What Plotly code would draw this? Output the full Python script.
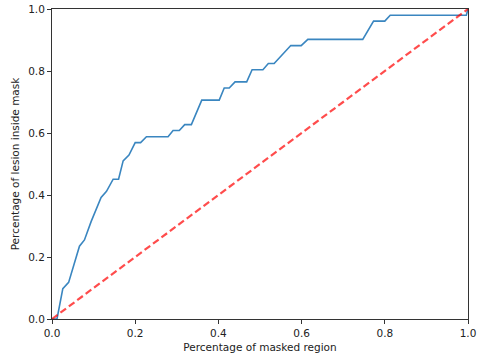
import plotly.graph_objects as go

# ROC-like curve values
x_vals = [0.0, 0.012, 0.026, 0.040, 0.066, 0.078, 0.094, 0.118, 0.131, 0.147, 0.160, 0.171, 0.185,
          0.200, 0.213, 0.227, 0.279, 0.291, 0.306, 0.319, 0.335, 0.360, 0.402, 0.414, 0.426,
          0.440, 0.468, 0.481, 0.507, 0.520, 0.534, 0.574, 0.599, 0.615, 0.747, 0.763, 0.773,
          0.800, 0.813, 0.996, 1.0]
y_vals = [0.0, 0.0, 0.098, 0.118, 0.235, 0.255, 0.314, 0.392, 0.412, 0.451, 0.451, 0.510, 0.529,
          0.569, 0.569, 0.588, 0.588, 0.608, 0.608, 0.627, 0.627, 0.706, 0.706, 0.745, 0.745,
          0.765, 0.765, 0.804, 0.804, 0.824, 0.824, 0.882, 0.882, 0.902, 0.902, 0.941, 0.961,
          0.961, 0.980, 0.980, 1.0]
diag_x = [0.0, 1.0]
diag_y = [0.0, 1.0]
tick_vals = [0.0, 0.2, 0.4, 0.6, 0.8, 1.0]
tick_text = ["0.0", "0.2", "0.4", "0.6", "0.8", "1.0"]

fig = go.Figure()
fig.add_trace(go.Scatter(x=x_vals, y=y_vals, mode="lines",
                         line=dict(color="#3a86c0", width=1.6), showlegend=False))
fig.add_trace(go.Scatter(x=diag_x, y=diag_y, mode="lines",
                         line=dict(color="rgba(255,0,0,0.7)", width=2.2, dash="7px,3.5px"),
                         showlegend=False, cliponaxis=False))

font = dict(family="DejaVu Sans", size=10.5, color="#222222")
axis_common = dict(range=[0, 1], showgrid=False, zeroline=False, showline=True,
                   linecolor="#333333", linewidth=1, mirror=True, ticks="outside",
                   ticklen=4, tickcolor="#333333", tickwidth=1, automargin=False,
                   tickvals=tick_vals, ticktext=tick_text, tickfont=font)

fig.update_layout(
    width=479, height=358,
    margin=dict(l=52, r=11, t=9, b=39),
    paper_bgcolor="white", plot_bgcolor="white",
    xaxis=dict(**axis_common, title=dict(text="Percentage of masked region", font=font, standoff=6)),
    yaxis=dict(**axis_common, title=dict(text="Percentage of lesion inside mask", font=font, standoff=6)),
)

fig.write_html("out.html", config={"displayModeBar": False},
               post_script="document.body.style.margin='0';")
